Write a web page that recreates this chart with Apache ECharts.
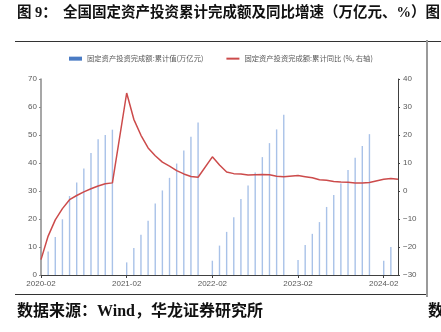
<!DOCTYPE html>
<html><head><meta charset="utf-8">
<script src="https://cdn.jsdelivr.net/npm/echarts@6/dist/echarts.min.js"></script>
<style>html,body{margin:0;padding:0;background:#fff}#c{width:441px;height:332px}</style>
</head><body><div id="c"></div>
<script>
const categories = [
 '2020-02','2020-03','2020-04','2020-05','2020-06','2020-07','2020-08','2020-09','2020-10','2020-11','2020-12',
 '2021-01','2021-02','2021-03','2021-04','2021-05','2021-06','2021-07','2021-08','2021-09','2021-10','2021-11','2021-12',
 '2022-01','2022-02','2022-03','2022-04','2022-05','2022-06','2022-07','2022-08','2022-09','2022-10','2022-11','2022-12',
 '2023-01','2023-02','2023-03','2023-04','2023-05','2023-06','2023-07','2023-08','2023-09','2023-10','2023-11','2023-12',
 '2024-01','2024-02','2024-03','2024-04'
];
const cumValue = [
 null, 8.4, 13.6, 19.9, 28.2, 33.0, 38.0, 43.6, 48.5, 50.0, 51.9,
 null, 4.5, 9.6, 14.4, 19.4, 25.5, 30.2, 34.7, 39.8, 44.5, 49.4, 54.5,
 null, 5.1, 10.5, 15.4, 20.6, 27.1, 32.0, 36.6, 42.1, 47.1, 52.0, 57.2,
 null, 5.4, 10.7, 14.7, 18.9, 24.3, 28.6, 32.7, 37.5, 41.9, 46.1, 50.3,
 null, 5.1, 10.0, null
];
const yoy = [
 -24.5, -16.1, -10.3, -6.3, -3.1, -1.6, -0.3, 0.8, 1.8, 2.6, 2.9,
 null, 35.0, 25.6, 19.9, 15.4, 12.6, 10.3, 8.9, 7.3, 6.1, 5.2, 4.9,
 null, 12.2, 9.3, 6.8, 6.2, 6.1, 5.7, 5.8, 5.9, 5.8, 5.3, 5.1,
 null, 5.5, 5.1, 4.7, 4.0, 3.8, 3.4, 3.2, 3.1, 2.9, 2.9, 3.0,
 null, 4.2, 4.5, 4.2
];
const barName = '固定资产投资完成额:累计值(万亿元)';
const lineName = '固定资产投资完成额:累计同比 (%, 右轴)';
const titleLead = '图 9：';
const titleMain = '全国固定资产投资累计完成额及同比增速（万亿元、%）图';
const sourceText = '数据来源：Wind，华龙证券研究所';

const chart = echarts.init(document.getElementById('c'), null, {renderer:'canvas'});
const serif = '"Liberation Serif", "Noto Sans CJK SC", serif';
const axisFont = '"Liberation Sans Narrow", "Liberation Sans", sans-serif';
chart.setOption({
  animation: false,
  backgroundColor: '#fff',
  grid: {left: 41, right: 43, top: 79, bottom: 57},
  legend: {
    left: 69, top: 55, padding: 0, itemWidth: 13, itemHeight: 4, itemGap: 22,
    textStyle: {fontSize: 7.3, color: '#595959', fontFamily: '"Noto Sans CJK SC", sans-serif'},
    data: [
      {name: barName, icon: 'rect', itemStyle: {color: '#4A7BC4'}},
      {name: lineName, itemStyle: {opacity: 0}}
    ]
  },
  xAxis: {
    type: 'category', data: categories, boundaryGap: false,
    axisLine: {lineStyle: {color: '#404040', width: 1}},
    axisTick: {interval: 11, length: 3, lineStyle: {color: '#404040'}},
    axisLabel: {interval: 11, fontSize: 8, color: '#595959', margin: 5, fontFamily: axisFont}
  },
  yAxis: [
    {type: 'value', min: 0, max: 70, interval: 10, splitLine: {show: false},
     axisLine: {show: true, lineStyle: {color: '#8a8a8a', width: 1.5}},
     axisTick: {show: true, length: 2, lineStyle: {color: '#8a8a8a'}},
     axisLabel: {fontSize: 8, color: '#595959', margin: 4, fontFamily: axisFont}},
    {type: 'value', min: -30, max: 40, interval: 10, splitLine: {show: false},
     axisLine: {show: true, lineStyle: {color: '#404040', width: 1}},
     axisTick: {show: true, length: 2, lineStyle: {color: '#404040'}},
     axisLabel: {fontSize: 8, color: '#595959', margin: 5, fontFamily: axisFont,
       formatter: v => String(v).replace('-', '\u2212')}}
  ],
  series: [
    {name: barName, type: 'bar', data: cumValue, yAxisIndex: 0, barWidth: 1.4,
     itemStyle: {color: '#A9C2E8'}},
    {name: lineName, type: 'line', data: yoy, yAxisIndex: 1, connectNulls: true,
     symbol: 'none', lineStyle: {color: '#CC4B4B', width: 1.5}, itemStyle: {color: '#CC4B4B'}, z: 3}
  ],
  graphic: [
    {type: 'line', shape: {x1: 15, y1: 41.5, x2: 441, y2: 41.5}, style: {stroke: '#333', lineWidth: 1}},
    {type: 'line', shape: {x1: 15, y1: 294.5, x2: 427, y2: 294.5}, style: {stroke: '#333', lineWidth: 1}},
    {type: 'line', shape: {x1: 427, y1: 40, x2: 427, y2: 297}, style: {stroke: '#9a9a9a', lineWidth: 2}},
    {type: 'text', left: 17, top: 6, style: {text: titleLead, font: 'bold 14.5px ' + serif, fill: '#111'}},
    {type: 'text', left: 63, top: 6, style: {text: titleMain, font: 'bold 14.5px ' + serif, fill: '#111'}},
    {type: 'text', left: 17, top: 304, style: {text: sourceText, font: 'bold 16px ' + serif, fill: '#111'}},
    {type: 'text', left: 428, top: 304, style: {text: '数', font: 'bold 16px ' + serif, fill: '#111'}}
  ]
});
</script></body></html>
